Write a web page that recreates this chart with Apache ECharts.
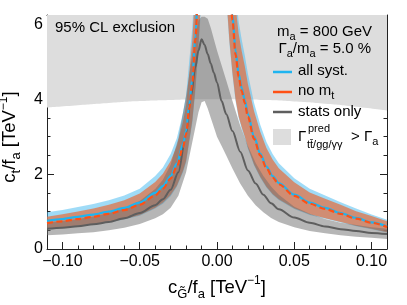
<!DOCTYPE html>
<html><head><meta charset="utf-8">
<script src="https://cdn.jsdelivr.net/npm/echarts@6/dist/echarts.min.js"></script>
<style>html,body{margin:0;padding:0;background:#fff}#c{width:407px;height:305px}</style>
</head><body><div id="c"></div>
<script>
// ---------- data ----------
const xLeft = [-0.110,-0.100,-0.090,-0.080,-0.070,-0.060,-0.050,-0.040,-0.035,-0.030,-0.026,-0.022,-0.020,-0.018,-0.016,-0.014,-0.012,-0.010];
const allSystLeft   = [0.75,0.80,0.86,0.92,1.00,1.10,1.24,1.50,1.68,1.95,2.28,2.80,3.15,3.85,4.55,5.7,7.2,9.0];
const noMtLeft      = [0.69,0.74,0.80,0.86,0.94,1.04,1.18,1.43,1.61,1.88,2.20,2.72,3.07,3.75,4.45,5.6,7.1,8.9];
const allSystLoLeft = [0.53,0.57,0.61,0.65,0.71,0.79,0.89,1.08,1.21,1.41,1.66,2.05,2.31,2.83,3.36,4.2,5.3,6.7];
const allSystHiLeft = [0.98,1.04,1.12,1.20,1.30,1.43,1.61,1.95,2.18,2.54,2.96,3.64,4.10,5.0,5.9,7.4,9.4,11.7];
const noMtLoLeft    = [0.53,0.57,0.62,0.66,0.72,0.80,0.91,1.10,1.24,1.45,1.69,2.09,2.36,2.89,3.43,4.31,5.47,6.85];
const noMtHiLeft    = [0.86,0.93,1.00,1.08,1.18,1.30,1.48,1.79,2.01,2.35,2.75,3.40,3.84,4.69,5.56,7.0,8.9,11.1];

const xRight = [0.006,0.008,0.010,0.012,0.014,0.016,0.018,0.020,0.024,0.028,0.032,0.036,0.040,0.050,0.060,0.070,0.080,0.090,0.100,0.110];
const allSystRight   = [9.0,7.4,6.25,5.3,4.68,4.3,3.98,3.6,3.0,2.55,2.2,1.95,1.76,1.45,1.24,1.10,0.96,0.83,0.71,0.60];
const noMtRight      = [8.8,7.25,6.12,5.2,4.6,4.22,3.9,3.53,2.94,2.5,2.16,1.91,1.73,1.42,1.21,1.07,0.94,0.81,0.70,0.59];
const allSystLoRight = [6.7,5.5,4.65,3.95,3.5,3.2,2.96,2.68,2.23,1.9,1.64,1.45,1.31,1.07,0.91,0.81,0.71,0.61,0.53,0.44];
const allSystHiRight = [11.7,9.62,8.13,6.89,6.08,5.59,5.17,4.68,3.9,3.32,2.86,2.54,2.29,1.89,1.61,1.43,1.25,1.08,0.92,0.78];
const noMtLoRight    = [6.78,5.58,4.71,4.0,3.54,3.25,3.0,2.72,2.26,1.93,1.66,1.47,1.33,1.09,0.93,0.82,0.72,0.62,0.54,0.45];
const noMtHiRight    = [11.0,9.06,7.65,6.5,5.75,5.28,4.88,4.41,3.68,3.13,2.7,2.39,2.16,1.78,1.51,1.34,1.18,1.01,0.88,0.74];

const xStats = [-0.110,-0.100,-0.090,-0.080,-0.070,-0.060,-0.050,-0.040,-0.035,-0.030,-0.025,-0.020,-0.017,-0.014,-0.012,-0.010,-0.008,-0.006,-0.004,-0.002,0.000,0.003,0.006,0.010,0.015,0.020,0.025,0.030,0.035,0.040,0.050,0.060,0.070,0.080,0.090,0.100,0.110];
const statsOnly = [0.54,0.57,0.61,0.66,0.72,0.82,0.96,1.17,1.33,1.58,2.05,3.1,4.05,4.85,5.3,5.6,5.45,5.2,4.95,4.7,4.45,3.95,3.6,3.15,2.6,2.1,1.75,1.45,1.22,1.06,0.84,0.70,0.60,0.53,0.48,0.43,0.40];
const statsLo = [0.37,0.39,0.42,0.45,0.50,0.57,0.67,0.82,0.93,1.10,1.42,2.05,2.65,3.25,3.65,3.92,3.95,3.75,3.5,3.25,3.0,2.75,2.5,2.15,1.75,1.42,1.17,0.98,0.83,0.72,0.58,0.48,0.42,0.37,0.33,0.30,0.27];
const statsHi = [0.71,0.75,0.80,0.87,0.96,1.09,1.28,1.6,1.85,2.25,2.95,4.1,4.9,5.7,6.1,6.2,6.2,6.15,5.9,5.6,5.3,4.9,4.5,3.95,3.3,2.75,2.3,1.95,1.67,1.45,1.13,0.94,0.80,0.70,0.64,0.58,0.54];

const xExcl = [-0.11,-0.09,-0.07,-0.05,-0.03,-0.01,0.01,0.03,0.05,0.07,0.09,0.11];
const exclLower = [3.78,3.84,3.9,3.95,3.98,4.0,4.0,3.98,3.94,3.88,3.8,3.7];

const xTicks = [-0.10,-0.05,0.00,0.05,0.10];
const xMinorTicks = [-0.11,-0.10,-0.09,-0.08,-0.07,-0.06,-0.05,-0.04,-0.03,-0.02,-0.01,0,0.01,0.02,0.03,0.04,0.05,0.06,0.07,0.08,0.09,0.10,0.11];
const yTicks = [0,2,4,6];
const yMinorTicks = [0,0.5,1,1.5,2,2.5,3,3.5,4,4.5,5,5.5,6];

// ---------- styling ----------
const F = "'Liberation Sans', Arial, Helvetica, sans-serif";
const C_BLUE = '#1eb4f0', C_ORANGE = '#ff5014', C_GRAY = '#5e5e5e';
const BAND_BLUE = 'rgba(80,190,240,0.55)';
const BAND_ORANGE = 'rgba(229,108,59,0.7)';
const BAND_GRAY = 'rgba(110,110,110,0.5)';
const EXCL = '#dddddd';

const zip = (xs, ys) => xs.map((x, i) => [x, ys[i]]);

function band(xs, lo, hi, color, z) {
  return {
    type: 'custom', clip: true, silent: true, z: z,
    data: [[xs[0], lo[0]]],
    renderItem: (params, api) => {
      const pts = [];
      for (let i = 0; i < xs.length; i++) pts.push(api.coord([xs[i], hi[i]]));
      for (let i = xs.length - 1; i >= 0; i--) pts.push(api.coord([xs[i], lo[i]]));
      return { type: 'polygon', shape: { points: pts }, style: { fill: color } };
    }
  };
}
function line(xs, ys, color, type, width, z) {
  return {
    type: 'line', data: zip(xs, ys), showSymbol: false, silent: true, z: z,
    smooth: 0.3, smoothMonotone: 'x', clip: true,
    lineStyle: { color, width, type }
  };
}

const nameRich = {
  i: { fontFamily: F, fontSize: 18.5, color: '#000' },
  s: { fontFamily: F, fontSize: 13, color: '#000', verticalAlign: 'bottom' },
  p: { fontFamily: F, fontSize: 12, color: '#000', verticalAlign: 'top' }
};
const axisLineStyle = { color: '#222', width: 1 };

function xAx(pos, major, withLabel) {
  const a = {
    type: 'value', position: pos, min: -0.11, max: 0.11,
    splitLine: { show: false },
    axisLine: { show: major, onZero: false, lineStyle: axisLineStyle },
    axisTick: { show: true, inside: true, length: major ? 7 : 3.5, customValues: major ? xTicks : xMinorTicks, lineStyle: axisLineStyle },
    axisLabel: { show: withLabel }
  };
  if (withLabel) {
    a.axisLabel = { show: true, customValues: xTicks, margin: 5, fontFamily: F, fontSize: 16, color: '#000',
      formatter: v => (v < -1e-9 ? '\u2212' : '') + Math.abs(v).toFixed(2) };
    a.name = '{i|c}{s|G\u0303}{i|/f}{s|a}{i| [TeV}{p|\u22121}{i|]}';
    a.nameLocation = 'middle';
    a.nameGap = 26;
    a.nameTextStyle = { fontFamily: F, fontSize: 18.5, color: '#000', lineHeight: 26, rich: nameRich };
  }
  return a;
}
function yAx(pos, major, withLabel) {
  const a = {
    type: 'value', position: pos, min: 0, max: 6.25,
    splitLine: { show: false },
    axisLine: { show: major, onZero: false, lineStyle: axisLineStyle },
    axisTick: { show: true, inside: true, length: major ? 7 : 3.5, customValues: major ? yTicks : yMinorTicks, lineStyle: axisLineStyle },
    axisLabel: { show: withLabel }
  };
  if (withLabel) {
    a.axisLabel = { show: true, customValues: yTicks, margin: 4, fontFamily: F, fontSize: 16, color: '#000' };
    a.name = '{i|c}{s|t}{i|/f}{s|a}{i| [TeV}{p|\u22121}{i|]}';
    a.nameLocation = 'middle';
    a.nameRotate = 90;
    a.nameGap = 20;
    a.nameTextStyle = { fontFamily: F, fontSize: 18.5, color: '#000', lineHeight: 26, padding: [0, 10, 0, 0], rich: nameRich };
  }
  return a;
}

const legRich = {
  s: { fontFamily: F, fontSize: 11, fill: '#000', verticalAlign: 'bottom' }
};
function txt(x, y, text, size, align) {
  return {
    type: 'text', x, y, z: 100, silent: true,
    style: { text, fontFamily: F, fontSize: size, fill: '#000', lineHeight: 20,
      align: align, textAlign: align, verticalAlign: 'middle', textVerticalAlign: 'middle', rich: legRich }
  };
}

const option = {
  animation: false,
  backgroundColor: '#fff',
  grid: { left: 47, right: 20, top: 15, bottom: 56, containLabel: false, outerBoundsMode: 'none' },
  xAxis: [xAx('bottom', true, true), xAx('bottom', false, false), xAx('top', true, false), xAx('top', false, false)],
  yAxis: [yAx('left', true, true), yAx('left', false, false), yAx('right', true, false), yAx('right', false, false)],
  series: [
    { type: 'line', z: 1, data: zip(xExcl, exclLower), showSymbol: false, silent: true, smooth: true,
      lineStyle: { width: 0 }, areaStyle: { origin: 'end', color: EXCL, opacity: 1 } },
    band(xLeft, allSystLoLeft, allSystHiLeft, BAND_BLUE, 2),
    band(xRight, allSystLoRight, allSystHiRight, BAND_BLUE, 2),
    band(xLeft, noMtLoLeft, noMtHiLeft, BAND_ORANGE, 3),
    band(xRight, noMtLoRight, noMtHiRight, BAND_ORANGE, 3),
    band(xStats, statsLo, statsHi, BAND_GRAY, 4),
    line(xStats, statsOnly, C_GRAY, 'solid', 2, 5),
    line(xLeft, allSystLeft, C_BLUE, 'solid', 2.2, 6),
    line(xRight, allSystRight, C_BLUE, 'solid', 2.2, 6),
    line(xLeft, noMtLeft, C_ORANGE, [6, 3.5], 2.2, 7),
    line(xRight, noMtRight, C_ORANGE, [6, 3.5], 2.2, 7)
  ],
  graphic: [
    txt(55, 28, '95% CL exclusion', 15, 'left'),
    txt(372, 32, 'm{s|a} = 800 GeV', 15, 'right'),
    txt(371, 49, '\u0393{s|a}/m{s|a} = 5.0 %', 15, 'right'),
    { type: 'line', z: 100, shape: { x1: 273, y1: 72, x2: 292, y2: 72 }, style: { stroke: C_BLUE, lineWidth: 2.5 } },
    { type: 'line', z: 100, shape: { x1: 273, y1: 92, x2: 292, y2: 92 }, style: { stroke: C_ORANGE, lineWidth: 2.5 } },
    { type: 'line', z: 100, shape: { x1: 273, y1: 112, x2: 292, y2: 112 }, style: { stroke: C_GRAY, lineWidth: 2.5 } },
    { type: 'rect', z: 100, shape: { x: 273, y: 129, width: 18, height: 16 }, style: { fill: EXCL } },
    txt(298, 71, 'all syst.', 15, 'left'),
    txt(298, 91, 'no m{s|t}', 15, 'left'),
    txt(298, 112, 'stats only', 15, 'left'),
    txt(298, 137, '\u0393', 15, 'left'),
    txt(308, 129, 'pred', 11, 'left'),
    txt(307, 145, 'tt\u0304/gg/\u03b3\u03b3', 11, 'left'),
    txt(351, 137, '> \u0393{s|a}', 15, 'left')
  ]
};
echarts.init(document.getElementById('c'), null, { renderer: 'canvas' }).setOption(option);
</script>
</body></html>
